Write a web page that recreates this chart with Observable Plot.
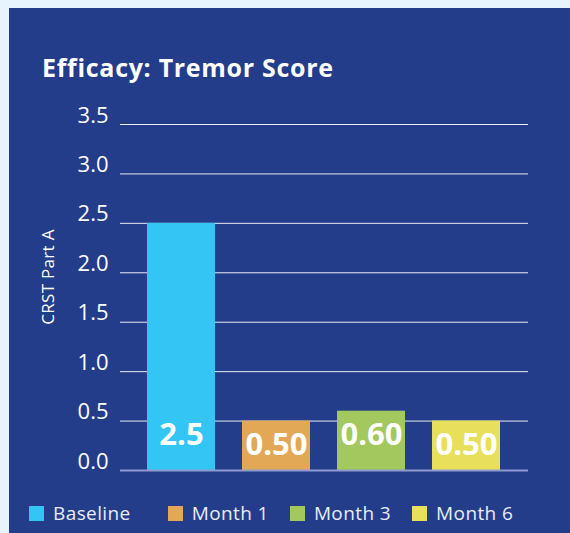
<!DOCTYPE html>
<html>
<head>
<meta charset="utf-8">
<script src="https://cdn.jsdelivr.net/npm/d3@7"></script>
<script src="https://cdn.jsdelivr.net/npm/@observablehq/plot@0.6"></script>
<style>
  html, body { margin: 0; padding: 0; }
  body { width: 570px; height: 533px; background: #e7f4fe; position: relative; overflow: hidden; font-family: "Open Sans", sans-serif; }
  #panel { position: absolute; left: 9px; top: 8px; width: 561px; height: 525px; background: #243d8a; }
  #title { position: absolute; left: 42px; top: 50px; color: #fff; font-weight: 700; font-size: 25px; letter-spacing: 0.7px; white-space: nowrap; }
  #chart { position: absolute; left: 0; top: 100px; }
  #ylabel { position: absolute; left: 47px; top: 277px; transform: translate(-50%, -50%) rotate(-90deg); color: #fff; font-size: 17px; letter-spacing: 0.3px; white-space: nowrap; }
  #legend { position: absolute; left: 29px; top: 500px; display: flex; align-items: center; color: #e8ecf6; font-size: 19px; letter-spacing: 0.4px; }
  .item { display: flex; align-items: center; margin-right: 21px; }
  .item:first-child { margin-right: 37px; }
  .sw { width: 15px; height: 15px; margin-right: 9px; }
</style>
</head>
<body>
<div id="panel"></div>
<div id="title">Efficacy: Tremor Score</div>
<div id="ylabel">CRST Part A</div>
<div id="chart"></div>
<div id="legend"></div>
<script>
const categories = ["Baseline", "Month 1", "Month 3", "Month 6"];
const values = [2.5, 0.5, 0.6, 0.5];
const labels = ["2.5", "0.50", "0.60", "0.50"];
const colors = ["#33c5f3", "#e2a855", "#a2c85e", "#e8e05a"];
const yTicks = [0, 0.5, 1.0, 1.5, 2.0, 2.5, 3.0, 3.5];

const data = categories.map((c, i) => ({category: c, value: values[i], label: labels[i]}));

const plot = Plot.plot({
  width: 570,
  height: 385,
  marginTop: 24,
  marginBottom: 15,
  marginLeft: 120,
  marginRight: 42,
  style: {background: "transparent", color: "#fff", fontFamily: "Open Sans, sans-serif"},
  x: {domain: categories, padding: 0.28, axis: null},
  y: {domain: [0, 3.5], label: null},
  color: {domain: categories, range: colors},
  marks: [
    Plot.ruleY(yTicks.filter(t => t > 0), {stroke: "#ffffff", strokeOpacity: 0.9, strokeWidth: 1}),
    Plot.axisY({ticks: yTicks, tickFormat: d3.format(".1f"), tickSize: 0, tickPadding: 12, fontSize: 22, dy: -9, fill: "#ffffff", label: null}),
    Plot.barY(data, {x: "category", y: "value", fill: "category"}),
    Plot.ruleY([0], {stroke: "#8f9bd0", strokeWidth: 2}),
    Plot.text(data, {x: "category", y: d => Math.min(d.value, 0.6), text: "label", dy: 24, fill: "#ffffff", fontSize: 31, fontWeight: 700, lineAnchor: "middle"})
  ]
});
document.getElementById("chart").appendChild(plot);

const legend = document.getElementById("legend");
categories.forEach((c, i) => {
  const item = document.createElement("div");
  item.className = "item";
  const sw = document.createElement("div");
  sw.className = "sw";
  sw.style.background = colors[i];
  const t = document.createElement("span");
  t.textContent = c;
  item.appendChild(sw);
  item.appendChild(t);
  legend.appendChild(item);
});
</script>
</body>
</html>
